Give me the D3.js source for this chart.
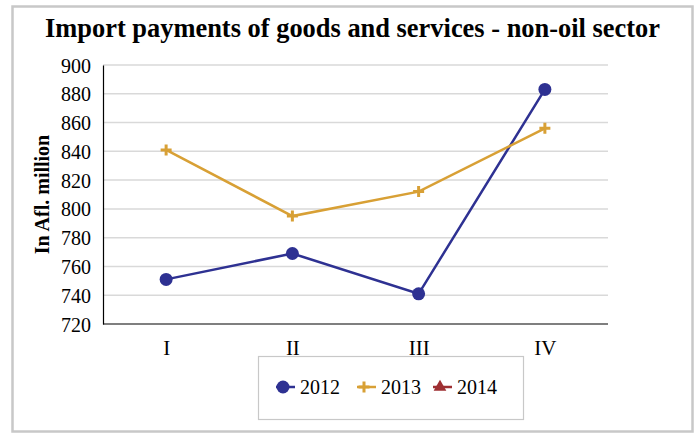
<!DOCTYPE html>
<html>
<head>
<meta charset="utf-8">
<script src="https://cdn.jsdelivr.net/npm/d3@7"></script>
<style>
  body { margin: 0; background: #fff; }
  svg { display: block; }
  svg text { font-family: "Liberation Serif", "Times New Roman", serif; fill: #000; }
  .grid line { stroke: #d9d9d9; stroke-width: 1.5; }
</style>
</head>
<body>
<svg id="chart" width="697" height="434"></svg>
<script>
  const quarters = ['I', 'II', 'III', 'IV'];
  const yTicks = [720, 740, 760, 780, 800, 820, 840, 860, 880, 900];
  const values2012 = [751, 769, 741, 883];
  const values2013 = [841, 795, 812, 856];
  const values2014 = [];

  const series = [
    {name: '2012', values: values2012, color: '#2e3192', marker: 'circle'},
    {name: '2013', values: values2013, color: '#d8a035', marker: 'plus'},
    {name: '2014', values: values2014, color: '#9e2f32', marker: 'triangle'},
  ];

  const svg = d3.select('#chart');
  const margin = {top: 65, left: 103, right: 89, bottom: 110};
  const width = 697 - margin.left - margin.right;
  const height = 434 - margin.top - margin.bottom;

  // outer frame
  svg.append('rect')
    .attr('x', 12.5).attr('y', 6.5).attr('width', 680).attr('height', 425)
    .attr('fill', 'none').attr('stroke', '#c8c8c8').attr('stroke-width', 2.5);

  svg.append('text')
    .attr('x', 45).attr('y', 37)
    .attr('textLength', 615).attr('lengthAdjust', 'spacingAndGlyphs')
    .style('font-weight', 'bold').style('font-size', '27px')
    .text('Import payments of goods and services - non-oil sector');

  const g = svg.append('g').attr('transform', `translate(${margin.left},${margin.top})`);

  const x = d3.scalePoint().domain(quarters).range([0, width]).padding(0.5);
  const y = d3.scaleLinear().domain([720, 900]).range([height, 0]);

  g.append('g').attr('class', 'grid')
    .selectAll('line').data(yTicks.slice(1)).join('line')
    .attr('x1', 0).attr('x2', width)
    .attr('y1', d => y(d)).attr('y2', d => y(d));

  const yAxis = g.append('g').call(d3.axisLeft(y).tickValues(yTicks).tickSize(0).tickPadding(12));
  yAxis.attr('font-family', null).attr('font-size', null);
  yAxis.select('.domain').attr('stroke', '#000').attr('stroke-width', 1.2);
  yAxis.selectAll('text').style('font-size', '20px').attr('dy', '0.35em');

  const xAxis = g.append('g').attr('transform', `translate(0,${height})`)
    .call(d3.axisBottom(x).tickSize(0).tickPadding(16));
  xAxis.attr('font-family', null).attr('font-size', null);
  xAxis.select('.domain').attr('d', `M0,0H${width}`).attr('stroke', '#000').attr('stroke-width', 1.2);
  xAxis.selectAll('text').style('font-size', '21px');

  svg.append('text')
    .attr('transform', `translate(49,${margin.top + height / 2}) rotate(-90)`)
    .attr('text-anchor', 'middle')
    .style('font-weight', 'bold').style('font-size', '20px')
    .text('In Afl. million');

  function drawMarker(sel, type, color) {
    if (type === 'circle') {
      sel.append('circle').attr('r', 6.5).attr('fill', color);
    } else if (type === 'plus') {
      sel.append('path').attr('d', 'M-5.5,0H5.5M0,-5.5V5.5')
        .attr('stroke', color).attr('stroke-width', 3).attr('fill', 'none');
    } else {
      sel.append('path').attr('d', d3.symbol(d3.symbolTriangle, 70)()).attr('fill', color);
    }
  }

  const line = d3.line().x((d, i) => x(quarters[i])).y(d => y(d));

  series.forEach(s => {
    if (!s.values.length) return;
    g.append('path').datum(s.values)
      .attr('d', line).attr('fill', 'none')
      .attr('stroke', s.color).attr('stroke-width', 2.5);
    g.selectAll(null).data(s.values).join('g')
      .attr('transform', (d, i) => `translate(${x(quarters[i])},${y(d)})`)
      .each(function() { drawMarker(d3.select(this), s.marker, s.color); });
  });

  // legend
  const lg = svg.append('g').attr('transform', 'translate(258,356)');
  lg.append('rect').attr('x', 0.5).attr('y', 0.5).attr('width', 265).attr('height', 63)
    .attr('fill', '#fff').attr('stroke', '#c8c8c8').attr('stroke-width', 1.2);
  const offsets = [18, 99, 175];
  series.forEach((s, i) => {
    const item = lg.append('g').attr('transform', `translate(${offsets[i]},31)`);
    item.append('line').attr('x1', 0).attr('x2', 19).attr('stroke', s.color).attr('stroke-width', 2.5);
    const m = item.append('g').attr('transform', 'translate(7,0)');
    drawMarker(m, s.marker, s.color);
    item.append('text').attr('x', 24).attr('y', 7)
      .style('font-size', '20px').text(s.name);
  });
</script>
</body>
</html>
